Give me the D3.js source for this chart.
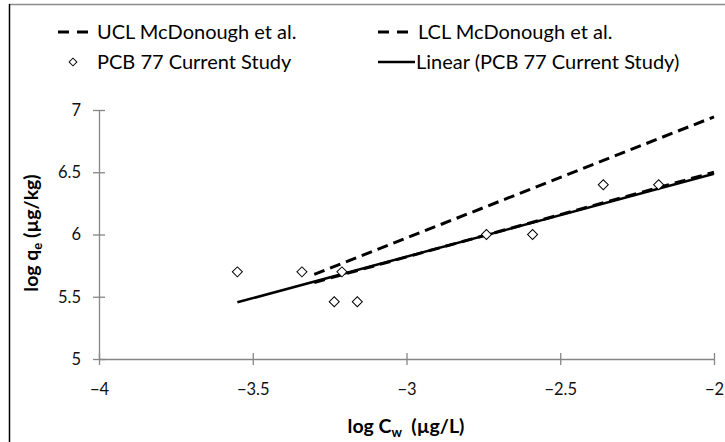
<!DOCTYPE html>
<html><head><meta charset="utf-8">
<script src="https://cdn.jsdelivr.net/npm/d3@7"></script>
<style>body{margin:0;background:#fff}svg{display:block}</style>
</head><body>
<svg id="c" width="725" height="442"></svg>
<script>
// ---- data ----
const pcbX = [-3.55, -3.34, -3.21, -3.235, -3.16, -2.74, -2.59, -2.36, -2.18];
const pcbY = [5.70, 5.70, 5.70, 5.46, 5.46, 6.00, 6.00, 6.40, 6.40];
const uclX = [-3.30, -2.00];
const uclY = [5.68, 6.945];
const lclX = [-3.30, -2.00];
const lclY = [5.615, 6.50];
const xTicks = [-4, -3.5, -3, -2.5, -2];
const yTicks = [5, 5.5, 6, 6.5, 7];
const trendEndX = -2;

const FONT = "Lato, 'Open Sans', sans-serif";
const svg = d3.select("#c");
const x = d3.scaleLinear().domain([-4, -2]).range([99, 714]);
const y = d3.scaleLinear().domain([5, 7]).range([359, 110]);

// border
svg.append("line").attr("x1", 9).attr("x2", 725).attr("y1", 4.5).attr("y2", 4.5).attr("stroke", "#8c8c8c").attr("stroke-width", 1.5);
svg.append("line").attr("x1", 9.5).attr("x2", 9.5).attr("y1", 4).attr("y2", 442).attr("stroke", "#000").attr("stroke-width", 1.5);

// axes
const axisColor = "#868686";
const gx = svg.append("g").attr("transform", `translate(0,${y(5)})`)
  .call(d3.axisBottom(x).tickValues(xTicks).tickSize(0).tickFormat(d => d3.format("")(d)));
gx.select(".domain").attr("stroke", axisColor).attr("stroke-width", 1.3);
gx.selectAll(".tick").append("line").attr("y1", -6).attr("y2", 6).attr("stroke", axisColor).attr("stroke-width", 1.3);
gx.selectAll("text").attr("font-family", FONT).attr("font-size", 16.5).attr("fill", "#111").attr("y", 36).attr("dy", 0);

const gy = svg.append("g").attr("transform", `translate(${x(-4)},0)`)
  .call(d3.axisLeft(y).tickValues(yTicks).tickSize(0).tickFormat(d => d3.format("")(d)));
gy.select(".domain").attr("stroke", axisColor).attr("stroke-width", 1.3);
gy.selectAll(".tick").append("line").attr("x1", -6).attr("x2", 6).attr("stroke", axisColor).attr("stroke-width", 1.3);
gy.selectAll("text").attr("font-family", FONT).attr("font-size", 16.5).attr("fill", "#111").attr("x", -18);

// regression from the study data
const mx = d3.mean(pcbX), my = d3.mean(pcbY);
const sxy = d3.sum(pcbX, (v, i) => (v - mx) * (pcbY[i] - my));
const sxx = d3.sum(pcbX, v => (v - mx) * (v - mx));
const slope = sxy / sxx, icpt = my - slope * mx;
const trendX = [d3.min(pcbX), trendEndX];

const line = d3.line().x(d => x(d[0])).y(d => y(d[1]));
const plot = svg.append("g");
plot.append("path").attr("d", line(lclX.map((v, i) => [v, lclY[i]])))
  .attr("fill", "none").attr("stroke", "#000").attr("stroke-width", 3).attr("stroke-dasharray", "11,6");
plot.append("path").attr("d", line(trendX.map(v => [v, icpt + slope * v])))
  .attr("fill", "none").attr("stroke", "#000").attr("stroke-width", 2.5);
plot.append("path").attr("d", line(uclX.map((v, i) => [v, uclY[i]])))
  .attr("fill", "none").attr("stroke", "#000").attr("stroke-width", 3).attr("stroke-dasharray", "11,6");

const diamond = d3.symbol().type(d3.symbolSquare).size(50);
plot.selectAll(".pt").data(pcbX.map((v, i) => [v, pcbY[i]])).join("path")
  .attr("d", diamond).attr("transform", d => `translate(${x(d[0])},${y(d[1])}) rotate(45)`)
  .attr("fill", "#fff").attr("stroke", "#000").attr("stroke-width", 1);

// legend
const lg = svg.append("g").attr("font-family", FONT).attr("font-size", 20).attr("fill", "#000");
function dashSym(x0, yy) {
  lg.append("line").attr("x1", x0).attr("x2", x0 + 31).attr("y1", yy).attr("y2", yy)
    .attr("stroke", "#000").attr("stroke-width", 3).attr("stroke-dasharray", "11,8");
}
const r1 = 32, r2 = 62;
dashSym(58, r1);
lg.append("text").attr("x", 97).attr("y", r1).attr("dy", "0.35em").text("UCL McDonough et al.");
dashSym(378, r1);
lg.append("text").attr("x", 418).attr("y", r1).attr("dy", "0.35em").text("LCL McDonough et al.");
lg.append("path").attr("d", d3.symbol().type(d3.symbolSquare).size(30)).attr("transform", `translate(73,${r2}) rotate(45)`)
  .attr("fill", "#fff").attr("stroke", "#000").attr("stroke-width", 1);
lg.append("text").attr("x", 97).attr("y", r2).attr("dy", "0.35em").text("PCB 77 Current Study");
lg.append("line").attr("x1", 378).attr("x2", 415).attr("y1", r2).attr("y2", r2).attr("stroke", "#000").attr("stroke-width", 2.5);
lg.append("text").attr("x", 416).attr("y", r2).attr("dy", "0.35em").text("Linear (PCB 77 Current Study)");

// axis titles
const xt = svg.append("text").attr("x", 406).attr("y", 433).attr("text-anchor", "middle")
  .attr("font-family", FONT).attr("font-size", 19.5).attr("font-weight", "bold");
xt.append("tspan").text("log C");
xt.append("tspan").attr("font-size", 13).attr("dy", 4).text("w");
xt.append("tspan").attr("dy", -4).text("\u00a0\u00a0(µg/L)");

const yt = svg.append("text").attr("transform", "translate(38,233) rotate(-90)").attr("text-anchor", "middle")
  .attr("font-family", FONT).attr("font-size", 19.5).attr("font-weight", "bold");
yt.append("tspan").text("log q");
yt.append("tspan").attr("font-size", 13).attr("dy", 4).text("e");
yt.append("tspan").attr("dy", -4).text(" (µg/kg)");
</script>
</body></html>
